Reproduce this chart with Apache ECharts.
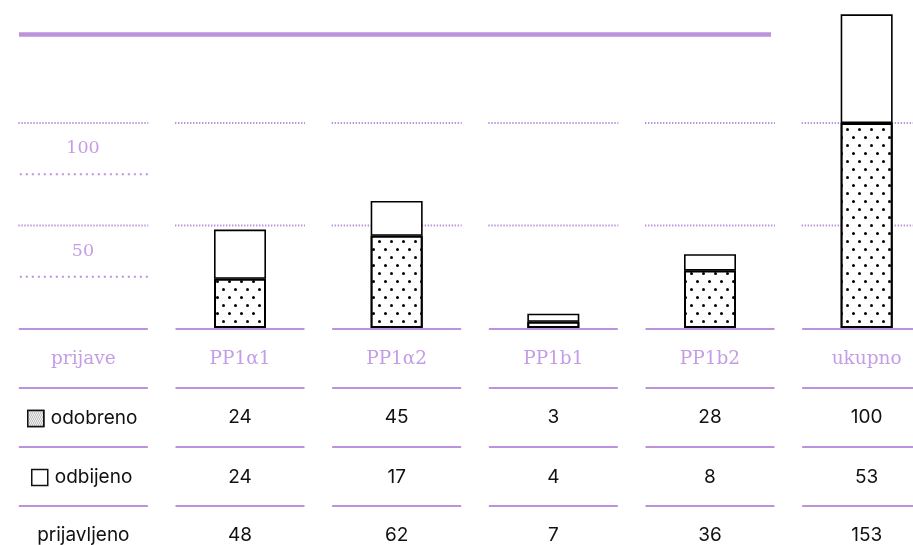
<!DOCTYPE html>
<html>
<head>
<meta charset="utf-8">
<script src="https://cdn.jsdelivr.net/npm/echarts@6/dist/echarts.min.js"></script>
<style>
  html, body { margin: 0; padding: 0; background: #fff; }
  #chart { width: 913px; height: 545px; }
</style>
</head>
<body>
<div id="chart"></div>
<script>
// podaci
const headLabel = 'prijave'
const categories = ['PP1α1', 'PP1α2', 'PP1b1', 'PP1b2', 'ukupno']
const odobreno = [24, 45, 3, 28, 100]
const odbijeno = [24, 17, 4, 8, 53]
const prijavljeno = [48, 62, 7, 36, 153]
const yTickLabels = [50, 100]

const lilac = '#bb93dd'
const lilacText = '#c49de6'
const serif = '"DejaVu Serif", serif'
const sans = 'Inter, "Liberation Sans", sans-serif'

const columns = [headLabel].concat(categories)
const rowGap = 59

const chartDom = document.getElementById('chart')
const myChart = echarts.init(chartDom)

// jedan red tablice = jedna x os
const tableAxis = (offset, margin, formatter, style) => ({
  type: 'category',
  data: columns,
  gridIndex: 0,
  position: 'bottom',
  offset: offset,
  axisLine: { show: false },
  axisTick: { show: false },
  axisLabel: Object.assign({
    interval: 0,
    margin: margin,
    verticalAlign: 'middle',
    formatter: formatter
  }, style)
})

const numStyle = { color: '#111', fontFamily: sans, fontSize: 19 }
const legendText = { color: '#111', fontFamily: sans, fontSize: 19, padding: [0, 0, 0, 2] }

const options = {
  animation: false,
  grid: { left: 5, top: 0, width: 940, bottom: 217, outerBoundsMode: 'none', containLabel: false },
  xAxis: [
    tableAxis(0, 31, (v) => v, { color: lilacText, fontFamily: serif, fontSize: 18.5 }),
    tableAxis(rowGap, 30, (v, i) => (i === 0 ? '' : String(odobreno[i - 1])), numStyle),
    tableAxis(rowGap * 2, 31, (v, i) => (i === 0 ? '' : String(odbijeno[i - 1])), numStyle),
    tableAxis(rowGap * 3, 30, (v, i) => (i === 0 ? 'prijavljeno' : String(prijavljeno[i - 1])), numStyle)
  ],
  yAxis: {
    type: 'value',
    min: 0,
    max: 160,
    interval: 50,
    axisLine: { show: false },
    axisTick: { show: false },
    splitLine: { show: false },
    axisLabel: {
      inside: true,
      margin: 78,
      align: 'center',
      verticalAlign: 'middle',
      lineHeight: 51,
      color: lilacText,
      fontFamily: serif,
      fontSize: 17.5,
      // oznaka sjedi ispod svoje linije
      formatter: (v) => (yTickLabels.indexOf(v) >= 0 ? '\n' + v : '')
    }
  },
  legend: [
    {
      data: ['odobreno'],
      left: 22,
      top: 404,
      icon: 'rect',
      itemWidth: 16,
      itemHeight: 16,
      textStyle: legendText,
      itemStyle: {
        borderColor: '#111',
        borderWidth: 1.5,
        decal: {
          symbol: 'rect',
          symbolSize: 1,
          color: '#666',
          backgroundColor: '#fff',
          dashArrayX: [[1, 1], [0, 1, 1, 0]],
          dashArrayY: [1, 1]
        }
      }
    },
    {
      data: ['odbijeno'],
      left: 26,
      top: 463,
      icon: 'rect',
      itemWidth: 16,
      itemHeight: 16,
      textStyle: legendText,
      itemStyle: { borderColor: '#111', borderWidth: 1.5 }
    }
  ],
  series: [
    {
      name: 'odobreno',
      type: 'bar',
      stack: 'prijave',
      barWidth: 52,
      data: [null].concat(odobreno),
      itemStyle: {
        color: '#fff',
        borderColor: '#000',
        borderWidth: 2,
        decal: {
          symbol: 'circle',
          symbolSize: 1,
          color: '#000',
          backgroundColor: '#fff',
          dashArrayX: [[3, 9], [0, 6, 3, 3]],
          dashArrayY: [3, 5]
        }
      }
    },
    {
      name: 'odbijeno',
      type: 'bar',
      stack: 'prijave',
      barWidth: 52,
      data: [null].concat(odbijeno),
      itemStyle: { color: '#fff', borderColor: '#000', borderWidth: 1.6 }
    }
  ]
}

myChart.setOption(options)

// linije tablice i točkaste linije mreže, po stupcima
const graphics = []
const seg = (x1, x2, y, style, z) => ({
  type: 'line',
  z: z,
  shape: { x1: x1, y1: y, x2: x2, y2: y },
  style: style
})
const denseDots = { stroke: lilac, lineWidth: 2, lineDash: [1.4, 1.6] }
const sparseDots = { stroke: lilac, lineWidth: 2, lineDash: [2, 4] }
const solid = { stroke: lilac, lineWidth: 2 }

const baseY = myChart.convertToPixel({ yAxisIndex: 0 }, 0)
columns.forEach((c, i) => {
  const cx = myChart.convertToPixel({ xAxisIndex: 0 }, i)
  yTickLabels.forEach((v) => {
    const y = myChart.convertToPixel({ yAxisIndex: 0 }, v)
    graphics.push(seg(cx - 65, cx + 65, y, denseDots, 0))
  })
  for (let r = 0; r < 4; r++) {
    graphics.push(seg(cx - 64.5, cx + 64.5, baseY + 1 + r * rowGap, solid, 10))
  }
})
// dodatne linije uz oznake osi u prvom stupcu
const cx0 = myChart.convertToPixel({ xAxisIndex: 0 }, 0)
;[75, 25].forEach((v) => {
  const y = myChart.convertToPixel({ yAxisIndex: 0 }, v)
  graphics.push(seg(cx0 - 63.5, cx0 + 65.5, y, sparseDots, 0))
})
// debela linija na vrhu
graphics.push(seg(19, 771, 34.5, { stroke: lilac, lineWidth: 4.5 }, 0))

myChart.setOption({ graphic: graphics })

window.addEventListener('resize', () => {
  myChart.resize()
})
</script>
</body>
</html>
